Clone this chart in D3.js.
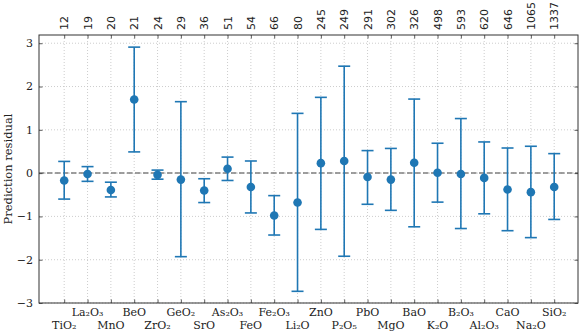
<!DOCTYPE html>
<html><head><meta charset="utf-8">
<script src="https://cdn.jsdelivr.net/npm/d3@7"></script>
<style>body{margin:0;background:#fff}</style>
</head><body><svg id="c" width="581" height="334"></svg>
<script>
const oxides = ["TiO₂","La₂O₃","MnO","BeO","ZrO₂","GeO₂","SrO","As₂O₃","FeO","Fe₂O₃","Li₂O","ZnO","P₂O₅","PbO","MgO","BaO","K₂O","B₂O₃","Al₂O₃","CaO","Na₂O","SiO₂"];
const counts = ["12","19","20","21","24","29","36","51","54","66","80","245","249","291","302","326","498","593","620","646","1065","1337"];
const residual = [-0.17,-0.02,-0.39,1.70,-0.04,-0.15,-0.40,0.10,-0.32,-0.98,-0.68,0.23,0.28,-0.09,-0.15,0.24,0.01,-0.02,-0.11,-0.38,-0.44,-0.32];
const upper = [0.27,0.15,-0.21,2.91,0.07,1.65,-0.13,0.37,0.28,-0.52,1.38,1.75,2.47,0.52,0.57,1.71,0.69,1.26,0.72,0.58,0.62,0.45];
const lower = [-0.60,-0.19,-0.55,0.49,-0.14,-1.93,-0.68,-0.17,-0.92,-1.43,-2.73,-1.30,-1.92,-0.72,-0.86,-1.24,-0.67,-1.28,-0.94,-1.33,-1.49,-1.07];
const yTicks = [-3,-2,-1,0,1,2,3];

const L=39,R=578,T=35,B=303;
const svg=d3.select("#c");
const n=oxides.length;
const x=d3.scaleLinear().domain([-1.08,n-1+1.02]).range([L,R]);
const y=d3.scaleLinear().domain([-3,3.19]).range([B,T]);
const serif="'DejaVu Serif', serif", sans="'DejaVu Sans', sans-serif";
const blue="#1f77b4";
const idx=d3.range(n);

// grid
svg.append("g").selectAll("line").data(idx).join("line")
  .attr("x1",d=>x(d)).attr("x2",d=>x(d)).attr("y1",T).attr("y2",B)
  .attr("stroke","#c0c0c0").attr("stroke-width",0.8).attr("stroke-dasharray","1,2");
svg.append("g").selectAll("line").data(yTicks).join("line")
  .attr("x1",L).attr("x2",R).attr("y1",d=>y(d)).attr("y2",d=>y(d))
  .attr("stroke","#c0c0c0").attr("stroke-width",0.8).attr("stroke-dasharray","1,2");

// zero line
svg.append("line").attr("x1",L).attr("x2",R).attr("y1",y(0)).attr("y2",y(0))
  .attr("stroke","#808080").attr("stroke-width",1.5).attr("stroke-dasharray","5.5,2.5");

// error bars
const eb=svg.append("g").attr("stroke",blue).attr("stroke-width",1.6);
eb.selectAll(".v").data(idx).join("line").attr("class","v")
  .attr("x1",d=>x(d)).attr("x2",d=>x(d)).attr("y1",d=>y(upper[d])).attr("y2",d=>y(lower[d]));
eb.selectAll(".u").data(idx).join("line").attr("class","u")
  .attr("x1",d=>x(d)-6).attr("x2",d=>x(d)+6).attr("y1",d=>y(upper[d])).attr("y2",d=>y(upper[d]));
eb.selectAll(".l").data(idx).join("line").attr("class","l")
  .attr("x1",d=>x(d)-6).attr("x2",d=>x(d)+6).attr("y1",d=>y(lower[d])).attr("y2",d=>y(lower[d]));
svg.append("g").selectAll("circle").data(idx).join("circle")
  .attr("cx",d=>x(d)).attr("cy",d=>y(residual[d])).attr("r",4.3).attr("fill",blue);

// axes
const axB=d3.axisBottom(x).tickValues(idx).tickSizeInner(-3.5).tickSizeOuter(0).tickFormat("");
const gb=svg.append("g").attr("transform",`translate(0,${B})`).call(axB);
const axT=d3.axisTop(x).tickValues(idx).tickSizeInner(-3.5).tickSizeOuter(0).tickFormat("");
const gt=svg.append("g").attr("transform",`translate(0,${T})`).call(axT);
const axL=d3.axisLeft(y).tickValues(yTicks).tickSizeInner(-3.5).tickSizeOuter(0).tickFormat("");
const gl=svg.append("g").attr("transform",`translate(${L},0)`).call(axL);
const axR=d3.axisRight(y).tickValues(yTicks).tickSizeInner(-3.5).tickSizeOuter(0).tickFormat("");
const gr=svg.append("g").attr("transform",`translate(${R},0)`).call(axR);
[gb,gt,gl,gr].forEach(g=>{g.selectAll("path").remove();g.selectAll("line").attr("stroke","#333").attr("stroke-width",0.8);});
svg.append("rect").attr("x",L).attr("y",T).attr("width",R-L).attr("height",B-T)
  .attr("fill","none").attr("stroke","#333").attr("stroke-width",1);

// y tick labels
svg.append("g").selectAll("text").data(yTicks).join("text")
  .attr("x",L-6).attr("y",d=>y(d)).attr("dy","0.35em").attr("text-anchor","end")
  .attr("font-family",serif).attr("font-size",11).attr("fill","#222")
  .text(d=>d<0?"−"+Math.abs(d):d);
// bottom labels
svg.append("g").selectAll("text").data(idx).join("text")
  .attr("x",d=>x(d)).attr("y",d=>d%2===0?329:316).attr("text-anchor","middle")
  .attr("font-family",serif).attr("font-size",11).attr("fill","#222")
  .text(d=>oxides[d]);
// top labels
svg.append("g").selectAll("text").data(idx).join("text")
  .attr("transform",d=>`translate(${x(d)+4},${T-5}) rotate(-90)`)
  .attr("text-anchor","start").attr("font-family",sans).attr("font-size",11).attr("fill","#222")
  .text(d=>counts[d]);
// y label
svg.append("text").attr("transform",`translate(12,169) rotate(-90)`)
  .attr("text-anchor","middle").attr("font-family",serif).attr("font-size",11.5).attr("fill","#222")
  .text("Prediction residual");
</script></body></html>
